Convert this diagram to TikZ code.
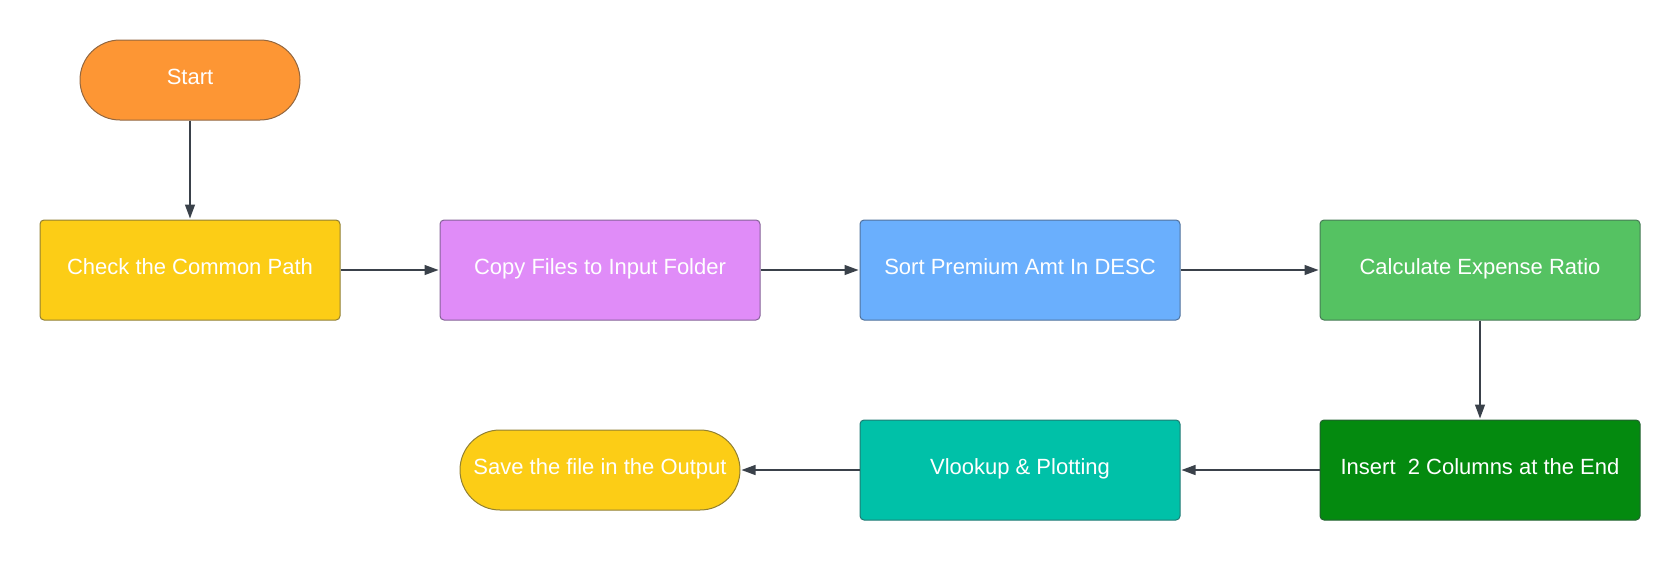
\documentclass[tikz,border=0pt]{standalone}
\usepackage{fontspec}
\setmainfont{Liberation Sans}
\usetikzlibrary{arrows.meta}
\definecolor{edgegray}{HTML}{3A414A}
\definecolor{cOrange}{HTML}{FD9634}
\definecolor{cYellow}{HTML}{FCCD16}
\definecolor{cPurple}{HTML}{E08CF8}
\definecolor{cBlue}{HTML}{6AAFFD}
\definecolor{cGreen}{HTML}{55C262}
\definecolor{cDark}{HTML}{048A0F}
\definecolor{cTeal}{HTML}{00C1A8}
\tikzset{
  stepbox/.style={rectangle, rounded corners=4pt, minimum width=320pt, minimum height=100pt,
    inner sep=0pt, fill=#1, draw=#1!45!edgegray, line width=1pt,
    text=white, font=\fontsize{22}{26}\selectfont, text height=16pt, text depth=8pt},
  pill/.style={rectangle, rounded corners=40pt, minimum height=80pt,
    inner sep=0pt, fill=#1, draw=#1!45!edgegray, line width=1pt,
    text=white, font=\fontsize{22}{26}\selectfont, text height=16pt, text depth=8pt},
  flow/.style={draw=edgegray, line width=1.3pt, -{Triangle[length=14pt,width=10pt]}, shorten >=1pt}
}
\begin{document}
\begin{tikzpicture}[x=1pt,y=-1pt]
\useasboundingbox (0,0) rectangle (1680,560);
\node[pill=cOrange, minimum width=220pt] (start) at (190,80) {Start};
\node[stepbox=cYellow, minimum width=300pt] (check) at (190,270) {Check the Common Path};
\node[stepbox=cPurple] (copy) at (600,270) {Copy Files to Input Folder};
\node[stepbox=cBlue] (sort) at (1020,270) {Sort Premium Amt In DESC};
\node[stepbox=cGreen] (calc) at (1480,270) {Calculate Expense Ratio};
\node[stepbox=cDark] (insert) at (1480,470) {Insert\ \ 2 Columns at the End};
\node[stepbox=cTeal] (vlook) at (1020,470) {Vlookup \& Plotting};
\node[pill=cYellow, minimum width=280pt] (save) at (600,470) {Save the file in the Output};
\draw[flow] (start) -- (check);
\draw[flow] (check) -- (copy);
\draw[flow] (copy) -- (sort);
\draw[flow] (sort) -- (calc);
\draw[flow] (calc) -- (insert);
\draw[flow] (insert) -- (vlook);
\draw[flow] (vlook) -- (save);
\end{tikzpicture}
\end{document}
